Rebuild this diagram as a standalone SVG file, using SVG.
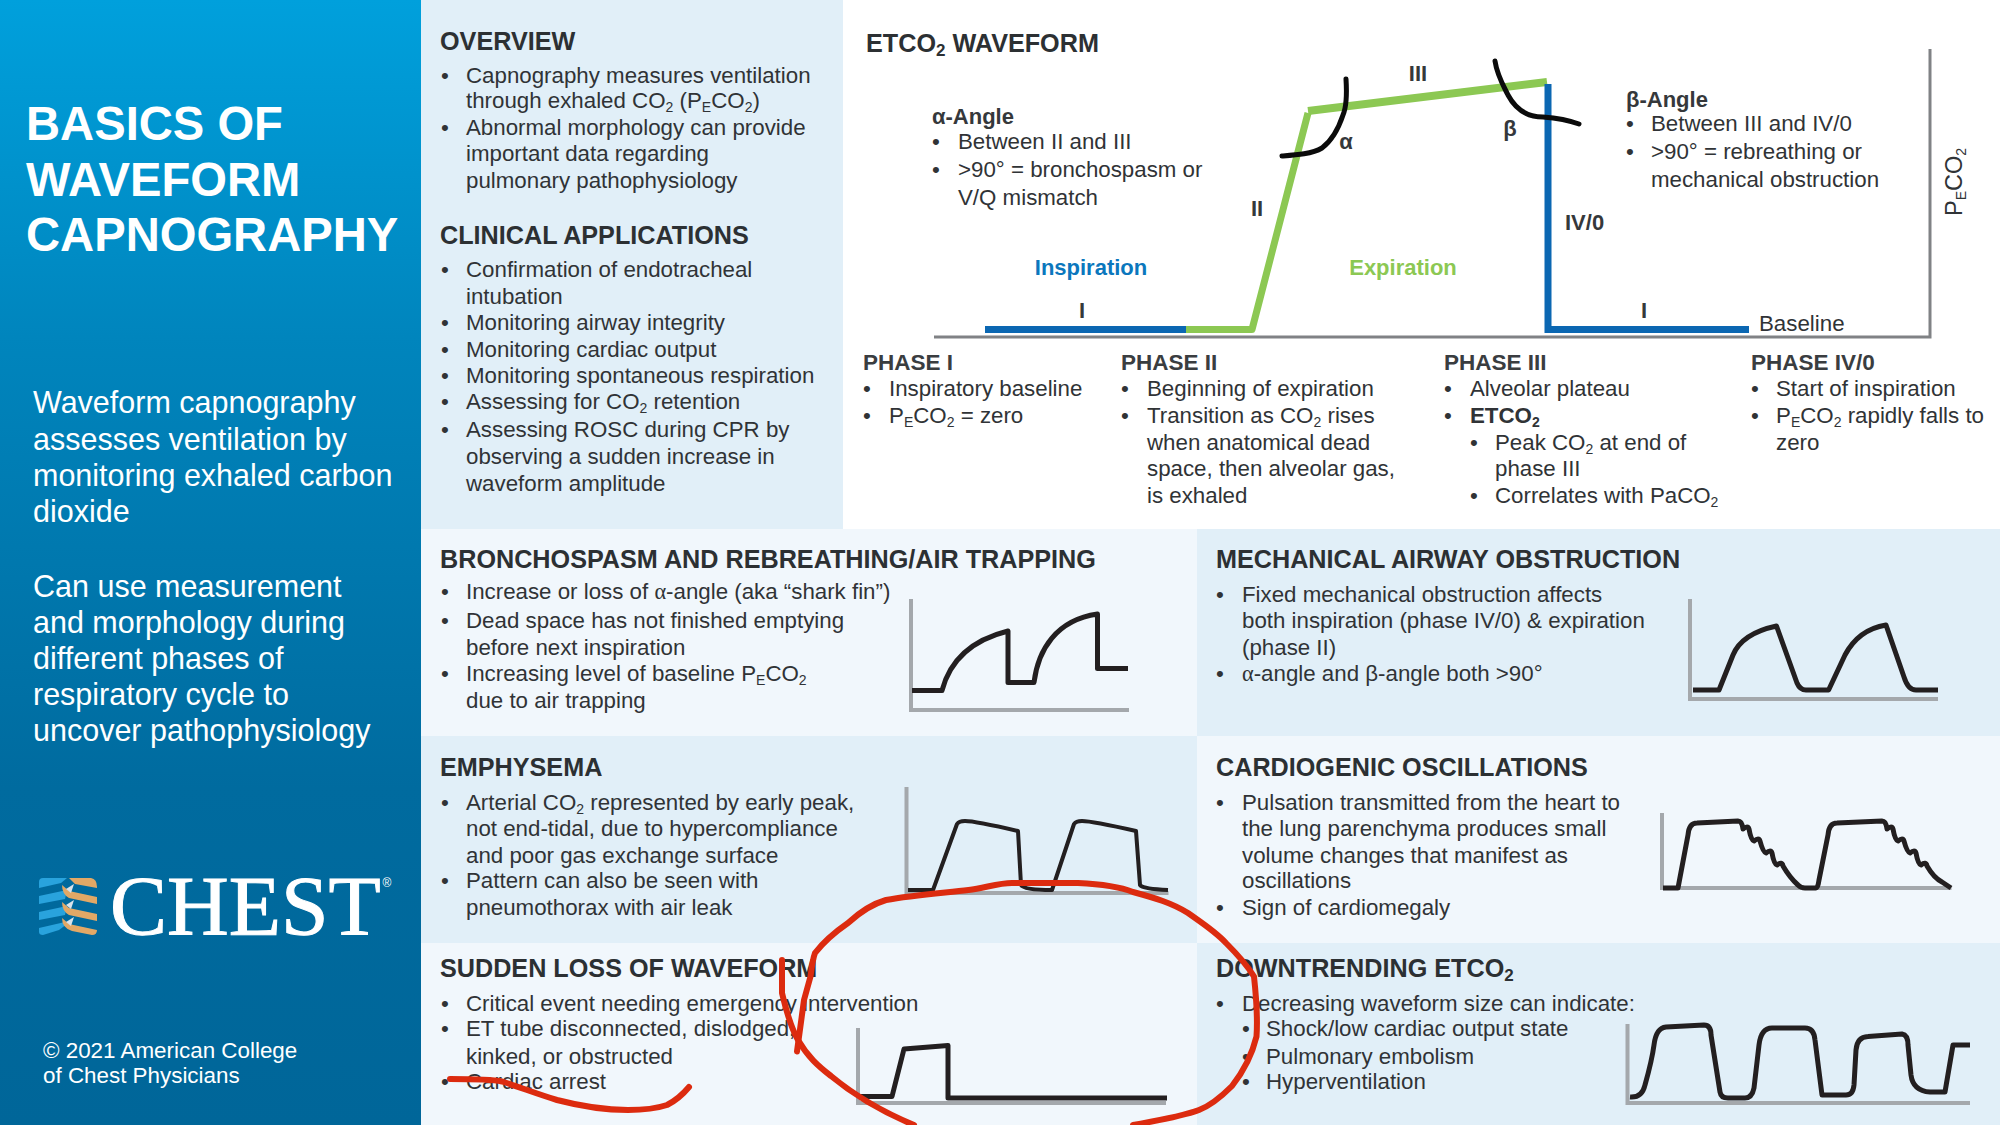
<svg xmlns="http://www.w3.org/2000/svg" width="2000" height="1125" viewBox="0 0 2000 1125">
<style>
text{font-family:"Liberation Sans",Arial,sans-serif;fill:#303336}
.t{font-size:22.3px}
.h{font-size:25.2px;font-weight:bold;fill:#2c3033}
.m{font-size:22.5px;font-weight:bold;fill:#3a3d40}
.k{font-size:22px;font-weight:bold;fill:#35383b}
.w{fill:#fff}
.s{font-size:14px;baseline-shift:-4px}
.sb{font-size:17px;baseline-shift:-4px;font-weight:bold}
.g{font-family:"Liberation Serif",serif}
.ax{fill:none;stroke:#a4a8ac;stroke-width:4}
.wv{fill:none;stroke:#231f20;stroke-width:5;stroke-linejoin:round}
.red{fill:none;stroke:#dc2b0f;stroke-width:6;stroke-linecap:round;stroke-linejoin:round}
.ink{fill:none;stroke:#0b0b0b;stroke-width:5;stroke-linecap:round}
</style>
<defs>
<linearGradient id="side" x1="0" y1="0" x2="0" y2="1">
<stop offset="0" stop-color="#00a0dc"/><stop offset="0.3" stop-color="#0085bd"/><stop offset="0.7" stop-color="#006b9f"/><stop offset="1" stop-color="#006699"/>
</linearGradient>
</defs>
<rect width="2000" height="1125" fill="#fff"/>
<g id="sidebar">
<rect width="421" height="1125" fill="url(#side)"/>
<text class="w" font-size="47.2" font-weight="bold" x="26" y="140">BASICS OF</text>
<text class="w" font-size="47.2" font-weight="bold" x="26" y="196">WAVEFORM</text>
<text class="w" font-size="47.2" font-weight="bold" x="26" y="251">CAPNOGRAPHY</text>
<g font-size="30.5">
<text class="w" x="33" y="413">Waveform capnography</text>
<text class="w" x="33" y="449.5">assesses ventilation by</text>
<text class="w" x="33" y="486">monitoring exhaled carbon</text>
<text class="w" x="33" y="522">dioxide</text>
<text class="w" x="33" y="597">Can use measurement</text>
<text class="w" x="33" y="633">and morphology during</text>
<text class="w" x="33" y="669">different phases of</text>
<text class="w" x="33" y="705">respiratory cycle to</text>
<text class="w" x="33" y="741">uncover pathophysiology</text>
</g>
<g id="logo">
<g fill="#29a3dd">
<path d="M39 882q0-4 4-4h24l-6 5-22 5z"/>
<path d="M39 896l28-6-2 9-26 5z"/>
<path d="M39 912l28-6-2 9-26 5z"/>
<path d="M39 928l26-6 2 2-8 6-16 5q-4 0-4-3z"/>
</g>
<g fill="#e2a866">
<path d="M69 878h22q6 1 6 9v1l-22-4z"/>
<path d="M62 885l7 6 28 6v7l-28-6q-7-4-7-13z"/>
<path d="M62 902l7 6 28 6v7l-28-6q-7-4-7-13z"/>
<path d="M62 918l7 6 28 6q0 5-5 5l-20-4q-10-3-10-13z"/>
</g>
<g fill="#dbe3ea">
<path d="M66 889l8-5-3 9z"/><path d="M66 905l8-5-3 9z"/><path d="M66 922l8-5-3 9z"/>
</g>
<text class="w" style="font-family:'Liberation Serif',serif;stroke:#fff;stroke-width:1" font-size="85.5" x="110" y="935">CHEST</text>
<text class="w" font-size="12" x="382.5" y="887">®</text>
</g>
<text class="w" font-size="22.4" x="43" y="1058">© 2021 American College</text>
<text class="w" font-size="22.4" x="43" y="1083">of Chest Physicians</text>
</g>
<g id="overview">
<rect x="421" width="422" height="529" fill="#e1eff8"/>
<text class="h" x="440" y="50">OVERVIEW</text>
<g class="t">
<text x="441" y="83">•</text><text x="466" y="83">Capnography measures ventilation</text>
<text x="466" y="108">through exhaled CO<tspan class="s">2</tspan> (P<tspan class="s">E</tspan>CO<tspan class="s">2</tspan>)</text>
<text x="441" y="135">•</text><text x="466" y="135">Abnormal morphology can provide</text>
<text x="466" y="161">important data regarding</text>
<text x="466" y="188">pulmonary pathophysiology</text>
</g>
<text class="h" x="440" y="244">CLINICAL APPLICATIONS</text>
<g class="t">
<text x="441" y="277">•</text><text x="466" y="277">Confirmation of endotracheal</text>
<text x="466" y="304">intubation</text>
<text x="441" y="330">•</text><text x="466" y="330">Monitoring airway integrity</text>
<text x="441" y="357">•</text><text x="466" y="357">Monitoring cardiac output</text>
<text x="441" y="383">•</text><text x="466" y="383">Monitoring spontaneous respiration</text>
<text x="441" y="409">•</text><text x="466" y="409">Assessing for CO<tspan class="s">2</tspan> retention</text>
<text x="441" y="437">•</text><text x="466" y="437">Assessing ROSC during CPR by</text>
<text x="466" y="464">observing a sudden increase in</text>
<text x="466" y="490.5">waveform amplitude</text>
</g>
</g>
<g id="etco2-waveform">
<text class="h" x="866" y="52">ETCO<tspan class="sb">2</tspan> WAVEFORM</text>
<path d="M1930 49V337H934" fill="none" stroke="#808285" stroke-width="3"/>
<path d="M985 329.5H1186" fill="none" stroke="#0b67b2" stroke-width="7"/>
<path d="M1186 329.5H1252L1308 113" fill="none" stroke="#8cc853" stroke-width="7" stroke-linejoin="round"/>
<path d="M1308 111L1547 82" fill="none" stroke="#8cc853" stroke-width="8"/>
<path d="M1548 84V329.5H1749" fill="none" stroke="#0b67b2" stroke-width="7"/>
<path class="ink" d="M1346 79C1347 95 1346 108 1343 115C1338 130 1330 142 1322 148C1312 154 1296 155 1282 156"/>
<path class="ink" d="M1495 61C1497 75 1503 85 1508 95C1516 110 1528 117 1543 117C1556 118 1568 120 1579 124"/>
<text class="k" x="1418" y="81" text-anchor="middle">III</text>
<text class="k" x="1257" y="216" text-anchor="middle">II</text>
<text class="k" x="1346" y="149" text-anchor="middle">α</text>
<text class="k" x="1510" y="136" text-anchor="middle">β</text>
<text class="k" x="1565" y="230">IV/0</text>
<text class="k" x="1082" y="318" text-anchor="middle">I</text>
<text class="k" x="1644" y="318" text-anchor="middle">I</text>
<text class="k" style="fill:#0b77bd" x="1091" y="275" text-anchor="middle">Inspiration</text>
<text class="k" style="fill:#8cc853" x="1403" y="275" text-anchor="middle">Expiration</text>
<text class="t" x="1759" y="331">Baseline</text>
<text class="k" x="932" y="124">α-Angle</text>
<g class="t">
<text x="932" y="149">•</text><text x="958" y="149">Between II and III</text>
<text x="932" y="177">•</text><text x="958" y="177">&gt;90° = bronchospasm or</text>
<text x="958" y="204.5">V/Q mismatch</text>
</g>
<text class="k" x="1626" y="107">β-Angle</text>
<g class="t">
<text x="1626" y="131">•</text><text x="1651" y="131">Between III and IV/0</text>
<text x="1626" y="159">•</text><text x="1651" y="159">&gt;90° = rebreathing or</text>
<text x="1651" y="187">mechanical obstruction</text>
</g>
<text style="font-size:23.5px" transform="translate(1962 216) rotate(-90)">P<tspan class="s">E</tspan>CO<tspan class="s">2</tspan></text>
</g>
<g id="phases">
<g id="phase-1">
<text class="m" x="863" y="370">PHASE I</text>
<g class="t">
<text x="863" y="395.5">•</text><text x="889" y="395.5">Inspiratory baseline</text>
<text x="863" y="423">•</text><text x="889" y="423">P<tspan class="s">E</tspan>CO<tspan class="s">2</tspan> = zero</text>
</g>
</g>
<g id="phase-2">
<text class="m" x="1121" y="370">PHASE II</text>
<g class="t">
<text x="1121" y="395.5">•</text><text x="1147" y="395.5">Beginning of expiration</text>
<text x="1121" y="422.5">•</text><text x="1147" y="422.5">Transition as CO<tspan class="s">2</tspan> rises</text>
<text x="1147" y="449.5">when anatomical dead</text>
<text x="1147" y="475.5">space, then alveolar gas,</text>
<text x="1147" y="502.5">is exhaled</text>
</g>
</g>
<g id="phase-3">
<text class="m" x="1444" y="370">PHASE III</text>
<g class="t">
<text x="1444" y="395.5">•</text><text x="1470" y="395.5">Alveolar plateau</text>
<text x="1444" y="422.5">•</text><text x="1470" y="422.5" font-weight="bold">ETCO<tspan class="s">2</tspan></text>
<text x="1470" y="449.5">•</text><text x="1495" y="449.5">Peak CO<tspan class="s">2</tspan> at end of</text>
<text x="1495" y="475.5">phase III</text>
<text x="1470" y="502.5">•</text><text x="1495" y="502.5">Correlates with PaCO<tspan class="s">2</tspan></text>
</g>
</g>
<g id="phase-4">
<text class="m" x="1751" y="370">PHASE IV/0</text>
<g class="t">
<text x="1751" y="395.5">•</text><text x="1776" y="395.5">Start of inspiration</text>
<text x="1751" y="422.5">•</text><text x="1776" y="422.5">P<tspan class="s">E</tspan>CO<tspan class="s">2</tspan> rapidly falls to</text>
<text x="1776" y="449.5">zero</text>
</g>
</g>
</g>
<g id="bronchospasm">
<rect x="421" y="529" width="776" height="207" fill="#f1f7fc"/>
<text class="h" x="440" y="568">BRONCHOSPASM AND REBREATHING/AIR TRAPPING</text>
<g class="t">
<text x="441" y="599">•</text><text x="466" y="599">Increase or loss of <tspan class="g">α</tspan>-angle (aka “shark fin”)</text>
<text x="441" y="627.5">•</text><text x="466" y="627.5">Dead space has not finished emptying</text>
<text x="466" y="655">before next inspiration</text>
<text x="441" y="680.5">•</text><text x="466" y="680.5">Increasing level of baseline P<tspan class="s">E</tspan>CO<tspan class="s">2</tspan></text>
<text x="466" y="708">due to air trapping</text>
</g>
<path class="ax" d="M911 599V710H1129"/>
<path class="wv" d="M912 690.5H942C950 660 972 640 1008 631V682.5H1034C1038 650 1056 620 1097.5 614V668.5H1128"/>
</g>
<g id="mechanical">
<rect x="1197" y="529" width="803" height="207" fill="#e1eff8"/>
<text class="h" x="1216" y="568">MECHANICAL AIRWAY OBSTRUCTION</text>
<g class="t">
<text x="1216" y="601.5">•</text><text x="1242" y="601.5">Fixed mechanical obstruction affects</text>
<text x="1242" y="627.5">both inspiration (phase IV/0) &amp; expiration</text>
<text x="1242" y="655">(phase II)</text>
<text x="1216" y="680.5">•</text><text x="1242" y="680.5"><tspan class="g">α</tspan>-angle and β-angle both &gt;90°</text>
</g>
<path class="ax" d="M1690 599V699H1938"/>
<path class="wv" d="M1693 690H1719L1733 655C1740 638 1758 630 1776.5 626L1797 683Q1800 690 1806 690H1828.6L1845 655C1854 638 1868 628 1886 625L1904 677Q1908 690 1916 690H1938"/>
</g>
<g id="emphysema">
<rect x="421" y="736" width="776" height="207" fill="#e1eff8"/>
<text class="h" x="440" y="776">EMPHYSEMA</text>
<g class="t">
<text x="441" y="809.5">•</text><text x="466" y="809.5">Arterial CO<tspan class="s">2</tspan> represented by early peak,</text>
<text x="466" y="835.5">not end-tidal, due to hypercompliance</text>
<text x="466" y="862.5">and poor gas exchange surface</text>
<text x="441" y="887.5">•</text><text x="466" y="887.5">Pattern can also be seen with</text>
<text x="466" y="915">pneumothorax with air leak</text>
</g>
<path class="ax" d="M906.5 787V893H1168.5"/>
<path class="wv" style="stroke-width:4" d="M908 890H933L957 824Q959 821 965 821Q975 821 1018 831L1021 885Q1024 890 1052 890L1074 824Q1076 821 1082 821Q1092 821 1136 831L1140 885Q1143 889 1168 890"/>
</g>
<g id="cardiogenic">
<rect x="1197" y="736" width="803" height="207" fill="#f1f7fc"/>
<text class="h" x="1216" y="776">CARDIOGENIC OSCILLATIONS</text>
<g class="t">
<text x="1216" y="809.5">•</text><text x="1242" y="809.5">Pulsation transmitted from the heart to</text>
<text x="1242" y="835.5">the lung parenchyma produces small</text>
<text x="1242" y="862.5">volume changes that manifest as</text>
<text x="1242" y="887.5">oscillations</text>
<text x="1216" y="915">•</text><text x="1242" y="915">Sign of cardiomegaly</text>
</g>
<path class="ax" d="M1662 813V888H1951.5"/>
<path class="wv" d="M1663 888H1678L1688 835Q1689 823 1697 823L1738 821Q1742 821 1743 829Q1748 825 1749 829Q1751 840 1754 841Q1759 837 1760 841Q1763 852 1766 853Q1771 849 1772 853Q1774 864 1777 865Q1782 861 1783 866Q1790 878 1798 885Q1801 888 1805 888H1816Q1818 888 1819 880L1828 835Q1829 823 1837 823L1882 821Q1886 821 1887 829Q1892 825 1893 829Q1895 840 1898 841Q1903 837 1904 841Q1907 852 1910 853Q1915 849 1916 853Q1918 864 1921 865Q1926 861 1927 866Q1934 878 1942 882L1951 888"/>
</g>
<g id="sudden-loss">
<rect x="421" y="943" width="776" height="182" fill="#f1f7fc"/>
<text class="h" x="440" y="977">SUDDEN LOSS OF WAVEFORM</text>
<g class="t">
<text x="441" y="1010.5">•</text><text x="466" y="1010.5">Critical event needing emergency intervention</text>
<text x="441" y="1035.5">•</text><text x="466" y="1035.5">ET tube disconnected, dislodged,</text>
<text x="466" y="1063.5">kinked, or obstructed</text>
<text x="441" y="1088.5">•</text><text x="466" y="1088.5">Cardiac arrest</text>
</g>
<path class="ax" d="M858 1028V1103H1166"/>
<path class="wv" d="M858 1096.5H892L904 1049L948 1045.5V1098H1167"/>
</g>
<g id="downtrending">
<rect x="1197" y="943" width="803" height="182" fill="#e1eff8"/>
<text class="h" x="1216" y="977">DOWNTRENDING ETCO<tspan class="sb">2</tspan></text>
<g class="t">
<text x="1216" y="1010.5">•</text><text x="1242" y="1010.5">Decreasing waveform size can indicate:</text>
<text x="1242" y="1035.5">•</text><text x="1266" y="1035.5">Shock/low cardiac output state</text>
<text x="1242" y="1063.5">•</text><text x="1266" y="1063.5">Pulmonary embolism</text>
<text x="1242" y="1088.5">•</text><text x="1266" y="1088.5">Hyperventilation</text>
</g>
<path class="ax" d="M1627.5 1024V1103H1970"/>
<path class="wv" d="M1630 1097Q1642 1098 1645 1085Q1652 1060 1654 1045Q1656 1028 1666 1027L1704 1025Q1711 1025 1711 1035L1720 1092Q1721 1098 1728 1098L1745 1098Q1752 1098 1754 1088L1759 1045Q1761 1028 1772 1028H1805Q1814 1028 1815 1040L1822 1095H1846Q1853 1095 1854 1085L1856 1050Q1857 1037 1868 1036.5L1902 1034Q1908 1035 1908 1045L1911 1075Q1913 1091 1930 1092H1945L1953 1045H1970"/>
</g>
<g id="annotations">
<path class="red" d="M782 960V993C786 1010 790 1026 798 1040C808 1057 818 1066 831 1076C860 1100 890 1115 914 1125"/>
<path class="red" d="M797 1051.5L804 1000L810.5 976.5C812 965 813 958 815 953C825 940 835 932 848 923C860 912 872 904 886 900C912 895 942 893 968.5 890C985 888 998 883 1012 883H1078C1100 884 1118 886 1133 892C1155 898 1172 903 1188 913C1205 925 1216 932 1226 943C1238 955 1247 965 1254 976.5C1256 995 1258 1015 1256.5 1036.5C1252 1055 1243 1072 1232 1086C1222 1096 1212 1105 1199 1110C1180 1117 1155 1121 1133 1125"/>
<path class="red" d="M450 1079C470 1079 490 1079 502 1081.5C522 1088 540 1095 557 1100C580 1106 605 1110 628 1110C645 1110 658 1108 667 1105C677 1100 684 1093 689 1087"/>
</g>
</svg>
